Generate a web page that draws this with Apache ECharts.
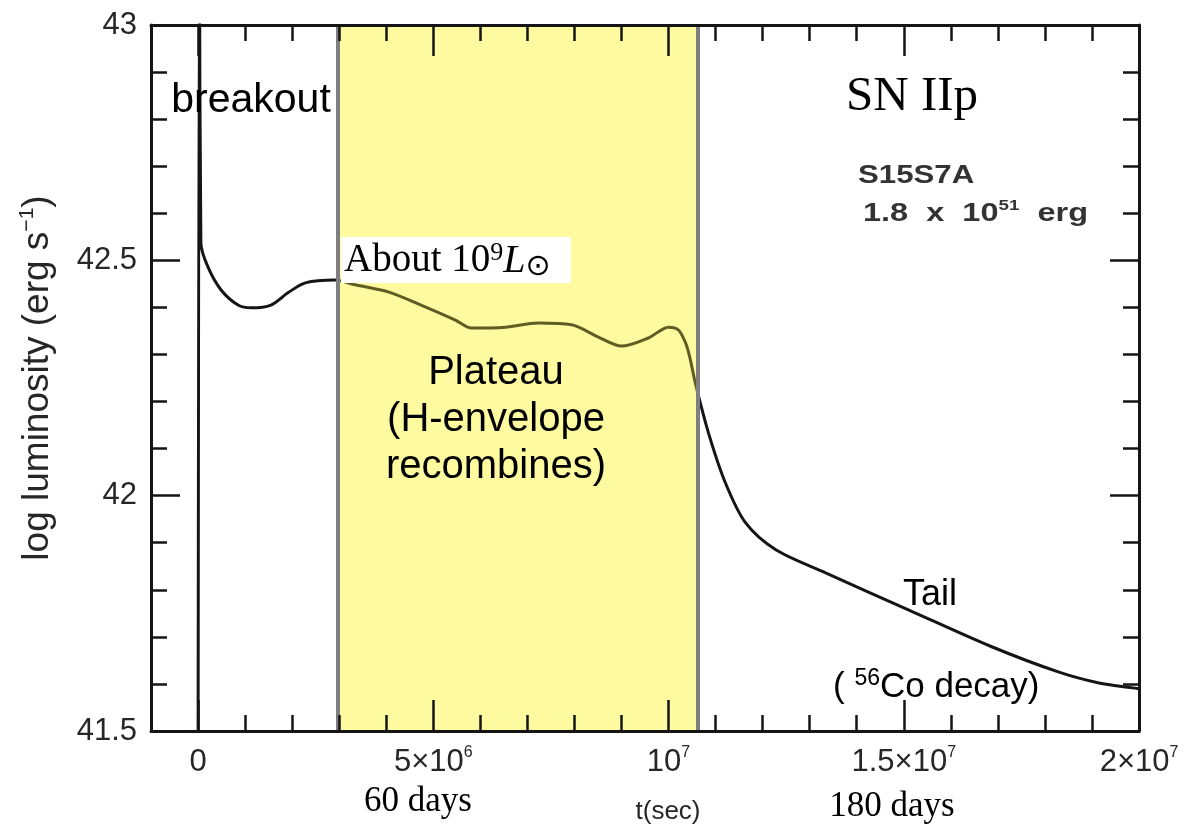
<!DOCTYPE html>
<html>
<head>
<meta charset="utf-8">
<title>SN IIp light curve</title>
<script src="https://cdn.jsdelivr.net/npm/echarts@6/dist/echarts.min.js"></script>
<style>
    html, body { margin: 0; padding: 0; background: #fff; }
    #lightCurve { width: 1190px; height: 829px; }
</style>
</head>
<body>
<div id="lightCurve"></div>
<script>
// 光变曲线数据
const timeSec = [0, 3e4, 6e4, 2.1e5, 4.9e5, 8.5e5, 1.13e6, 1.55e6, 1.91e6, 2.28e6,
    2.91e6, 3.34e6, 4.04e6, 4.74e6, 5.47e6, 5.81e6, 6.53e6, 7.23e6, 7.94e6, 8.51e6,
    9.0e6, 9.57e6, 10.0e6, 10.21e6, 10.36e6, 10.45e6, 10.57e6, 10.85e6, 11.21e6, 11.64e6,
    12.28e6, 13.34e6, 15.11e6, 16.87e6, 18.3e6, 19.15e6, 19.85e6, 20.0e6];
const logLum = [41.3, 43.3, 42.537, 42.486, 42.437, 42.405, 42.399, 42.405, 42.431, 42.452,
    42.458, 42.448, 42.433, 42.405, 42.373, 42.356, 42.358, 42.367, 42.363, 42.337,
    42.318, 42.335, 42.358, 42.352, 42.325, 42.295, 42.239, 42.133, 42.027, 41.942,
    41.885, 41.836, 41.757, 41.679, 41.625, 41.602, 41.592, 41.59];

// 坐标轴刻度
const xTickValues = [0, 5e6, 1e7, 1.5e7, 2e7];
const xTickBase = ['0', '5×10', '10', '1.5×10', '2×10'];
const xTickExp = ['', '6', '7', '7', '7'];
const yTickValues = [41.5, 42, 42.5, 43];

// 平台期（黄色区域）
const plateauRange = [2.97e6, 10.63e6];

const X_MIN = -1e6;
const X_MAX = 2e7;
const GRID = { left: 151, right: 51, top: 25, bottom: 98 };
const WIDTH = 1190;

const SANS = '"Liberation Sans", Arial, sans-serif';
const SERIF = '"Liberation Serif", "Times New Roman", serif';
const INK = '#151515';
const LABEL = '#262626';

class LightCurveChart {
    constructor(el) {
        this.chart = echarts.init(el);
        this.chart.setOption(this.buildOption());
    }

    /**
     * 短刻度的横轴（每 1e6 一格），挂在主网格上
     */
    minorXAxis(position, withLabels) {
        return {
            type: 'value',
            gridIndex: 0,
            position: position,
            z: 10,
            min: X_MIN,
            max: X_MAX,
            interval: 1e6,
            splitLine: { show: false },
            axisLine: { show: true, onZero: false, lineStyle: { color: INK, width: 3 } },
            axisTick: { show: true, inside: true, length: 16, lineStyle: { color: INK, width: 2.5 } },
            axisLabel: withLabels ? {
                show: true,
                interval: 0,
                margin: 14,
                formatter: (v) => {
                    const i = xTickValues.indexOf(v);
                    if (i < 0) return '';
                    return xTickExp[i] ? `{b|${xTickBase[i]}}{s|${xTickExp[i]}}` : `{b|${xTickBase[i]}}`;
                },
                rich: {
                    b: { fontFamily: SANS, fontSize: 31, color: LABEL, lineHeight: 34 },
                    s: { fontFamily: SANS, fontSize: 16, color: LABEL, verticalAlign: 'top', lineHeight: 34 }
                }
            } : { show: false }
        };
    }

    /**
     * 长刻度的横轴（每 5e6 一格），挂在从 t=0 开始的第二个网格上
     */
    majorXAxis(position) {
        return {
            type: 'value',
            gridIndex: 1,
            position: position,
            z: 10,
            min: 0,
            max: X_MAX,
            interval: 5e6,
            splitLine: { show: false },
            axisLine: { show: false, onZero: false },
            axisTick: { show: true, inside: true, length: 31, lineStyle: { color: INK, width: 2.5 } },
            axisLabel: { show: false }
        };
    }

    yAxis(gridIndex, position, withLabels) {
        const axis = {
            type: 'value',
            gridIndex: gridIndex,
            position: position,
            z: 10,
            min: 41.5,
            max: 43,
            interval: 0.5,
            splitLine: { show: false },
            axisLine: { show: gridIndex === 0, onZero: false, lineStyle: { color: INK, width: 3 } },
            axisTick: { show: gridIndex === 0, inside: true, length: 29, lineStyle: { color: INK, width: 2.5 } },
            minorTick: { show: gridIndex === 0, splitNumber: 5, length: 16, lineStyle: { color: INK, width: 2.5 } },
            axisLabel: withLabels ? {
                show: true,
                margin: 14,
                fontFamily: SANS,
                fontSize: 31,
                color: LABEL,
                formatter: (v) => yTickValues.includes(v) ? String(v) : ''
            } : { show: false }
        };
        if (withLabels) {
            axis.name = '{n|log luminosity (erg s}{s|−1}{n|)}';
            axis.nameLocation = 'middle';
            axis.nameRotate = 90;
            axis.nameGap = 92;
            axis.nameTextStyle = {
                rich: {
                    n: { fontFamily: SANS, fontSize: 37, color: LABEL, lineHeight: 42 },
                    s: { fontFamily: SANS, fontSize: 21, color: LABEL, verticalAlign: 'top', lineHeight: 42 }
                }
            };
        }
        return axis;
    }

    /**
     * 图上的文字注释
     */
    annotations() {
        const txt = (x, y, text, font, extra, scaleX) => ({
            type: 'text', x: x, y: y, z: 100, scaleX: scaleX || 1,
            style: Object.assign({ text: text, font: font, fill: '#000', align: 'center', verticalAlign: 'middle' }, extra || {})
        });
        // 模型名称用的是加宽的字体，这里横向拉伸
        const modelFont = `bold 26px ${SANS}`;
        return [
            txt(251, 101, 'breakout', `41px ${SANS}`),
            txt(912, 97, 'SN IIp', `49px ${SERIF}`),
            txt(858, 176, 'S15S7A', modelFont, { align: 'left', fill: '#333' }, 1.2),
            txt(863, 214, '{n|1.8  x  10}{s|51}{n|  erg}', modelFont, {
                align: 'left',
                rich: {
                    n: { font: modelFont, fill: '#333', lineHeight: 32 },
                    s: { font: `bold 15px ${SANS}`, fill: '#333', verticalAlign: 'top', lineHeight: 32 }
                }
            }, 1.25),
            txt(341, 237, '{n|About 10}{s|9}{i|L}{d|⊙}', `40px ${SERIF}`, {
                align: 'left', verticalAlign: 'top',
                backgroundColor: '#fff', padding: [3, 20, 1, 3],
                rich: {
                    n: { font: `39px ${SERIF}`, fill: '#000', lineHeight: 42 },
                    s: { font: `26px ${SERIF}`, fill: '#000', verticalAlign: 'top', lineHeight: 42 },
                    i: { font: `italic 40px ${SERIF}`, fill: '#000', lineHeight: 42 },
                    d: { font: `30px "DejaVu Sans", sans-serif`, fill: '#000', verticalAlign: 'bottom', lineHeight: 40 }
                }
            }),
            txt(496, 420, 'Plateau\n(H-envelope\nrecombines)', `40px ${SANS}`, { lineHeight: 47 }),
            txt(930, 595, 'Tail', `36px ${SANS}`),
            txt(833, 687, '{n|( }{s|56}{n|Co decay)}', `35px ${SANS}`, {
                align: 'left',
                rich: {
                    n: { font: `35px ${SANS}`, fill: '#000', lineHeight: 40 },
                    s: { font: `23px ${SANS}`, fill: '#000', verticalAlign: 'top', lineHeight: 40 }
                }
            }),
            txt(418, 802, '60 days', `35px ${SERIF}`),
            txt(892, 807, '180 days', `35px ${SERIF}`),
            txt(668, 812, 't(sec)', `26px ${SANS}`, { fill: LABEL })
        ];
    }

    buildOption() {
        const points = timeSec.map((t, i) => [t, logLum[i]]);
        // 第二个网格从 t=0 处开始，用来画 5e6 的长刻度
        const plotWidth = WIDTH - GRID.left - GRID.right;
        const zeroLeft = GRID.left + (0 - X_MIN) / (X_MAX - X_MIN) * plotWidth;
        return {
            backgroundColor: '#fff',
            animation: false,
            grid: [
                Object.assign({}, GRID),
                { left: zeroLeft, right: GRID.right, top: GRID.top, bottom: GRID.bottom }
            ],
            xAxis: [
                this.minorXAxis('bottom', true),
                this.minorXAxis('top', false),
                this.majorXAxis('bottom'),
                this.majorXAxis('top')
            ],
            yAxis: [
                this.yAxis(0, 'left', true),
                this.yAxis(0, 'right', false),
                this.yAxis(1, 'left', false)
            ],
            // 黄色区域里的曲线呈橄榄色
            visualMap: {
                type: 'piecewise',
                show: false,
                seriesIndex: 0,
                dimension: 0,
                pieces: [
                    { lt: plateauRange[0], color: INK },
                    { gte: plateauRange[0], lte: plateauRange[1], color: '#5f5d24' },
                    { gt: plateauRange[1], color: INK }
                ]
            },
            series: [{
                type: 'line',
                xAxisIndex: 0,
                yAxisIndex: 0,
                data: points,
                showSymbol: false,
                smooth: 0.3,
                clip: true,
                lineStyle: { width: 3 },
                markArea: {
                    silent: true,
                    itemStyle: { color: '#fefa9f' },
                    data: [[{ xAxis: plateauRange[0] }, { xAxis: plateauRange[1] }]]
                },
                markLine: {
                    silent: true,
                    symbol: 'none',
                    label: { show: false },
                    lineStyle: { color: '#7f7f7f', width: 4, type: 'solid' },
                    data: plateauRange.map(v => ({ xAxis: v }))
                }
            }],
            graphic: this.annotations()
        };
    }
}

window.lightCurve = new LightCurveChart(document.getElementById('lightCurve'));
</script>
</body>
</html>
